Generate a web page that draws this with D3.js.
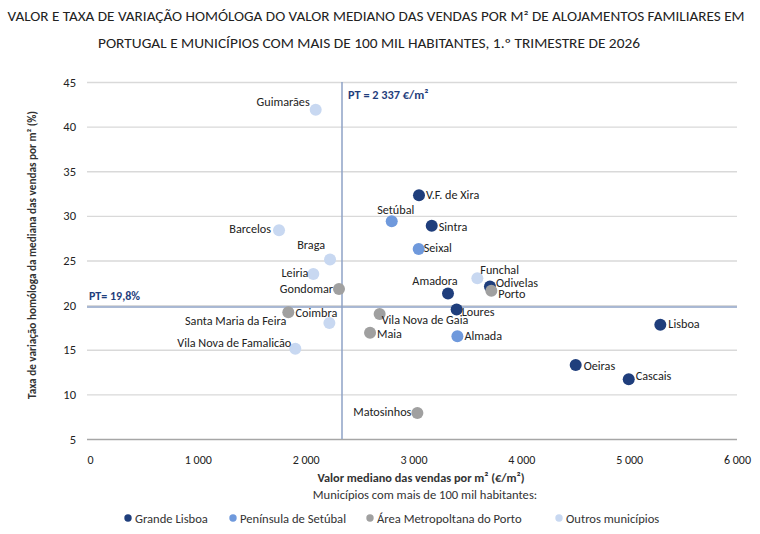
<!DOCTYPE html>
<html>
<head>
<meta charset="utf-8">
<script src="https://cdn.jsdelivr.net/npm/d3@7"></script>
<style>
  body { margin: 0; background: #fff; }
  text { font-family: Carlito, Lato, sans-serif; fill: #222; }
</style>
</head>
<body>
<div class="container"></div>
<script>
/* ===== DATA ===== */
var municipios = ['Guimarães', 'V.F. de Xira', 'Setúbal', 'Sintra', 'Seixal', 'Barcelos', 'Braga', 'Leiria',
  'Gondomar', 'Funchal', 'Odivelas', 'Porto', 'Amadora', 'Loures', 'Vila Nova de Gaia', 'Maia', 'Almada',
  'Coimbra', 'Santa Maria da Feira', 'Vila Nova de Famalicão', 'Matosinhos', 'Lisboa', 'Oeiras', 'Cascais'];
var valorMediano = [2093, 3051, 2798, 3169, 3048, 1753, 2226, 2071,
  2309, 3592, 3709, 3722, 3320, 3400, 2686, 2597, 3407,
  2220, 1839, 1904, 3036, 5289, 4504, 4996];
var taxaVariacao = [41.9, 32.3, 29.4, 28.9, 26.3, 28.4, 25.1, 23.5,
  21.8, 23.0, 22.1, 21.6, 21.3, 19.5, 19.0, 16.9, 16.5,
  18.0, 19.2, 15.1, 7.9, 17.8, 13.3, 11.7];
var regiao = [3, 0, 1, 0, 1, 3, 3, 3,
  2, 3, 0, 2, 0, 0, 2, 2, 1,
  3, 2, 3, 2, 0, 0, 0];
var regioes = ['Grande Lisboa', 'Península de Setúbal', 'Área Metropoltana do Porto', 'Outros municípios'];
var ptValor = 2337;
var ptTaxa = 19.8;
var xTicks = [0, 1000, 2000, 3000, 4000, 5000, 6000];
var yTicks = [5, 10, 15, 20, 25, 30, 35, 40, 45];

/* ===== LABEL PLACEMENT ===== */
// [dx, dy, anchor]
var labelPos = {
  'Guimarães': [-6, -4, 'end'], 'V.F. de Xira': [7, 4, 'start'], 'Setúbal': [4, -7, 'middle'],
  'Sintra': [7, 5, 'start'], 'Seixal': [5, 3, 'start'], 'Barcelos': [-8, 3, 'end'],
  'Braga': [-5, -11, 'end'], 'Leiria': [-5, 3, 'end'], 'Gondomar': [-6, 4, 'end'],
  'Funchal': [3, -4, 'start'], 'Odivelas': [6, 1, 'start'], 'Porto': [7, 7, 'start'],
  'Amadora': [-13, -9, 'middle'], 'Loures': [5, 6, 'start'], 'Vila Nova de Gaia': [2, 10, 'start'],
  'Maia': [7, 5, 'start'], 'Almada': [7, 4, 'start'], 'Coimbra': [-13, -6, 'middle'],
  'Santa Maria da Feira': [-2, 13, 'end'], 'Vila Nova de Famalicão': [-4, -2, 'end'],
  'Matosinhos': [-6, 3, 'end'], 'Lisboa': [8, 3, 'start'], 'Oeiras': [8, 5, 'start'], 'Cascais': [7, 1, 'start']
};

var colors = ['#1f3e7c', '#6f99dc', '#a0a0a0', '#c8d8f1'];
var ptColor = '#1f3e7c';

/* ===== SET UP CHART ===== */
var w = 760, h = 534;

var svg = d3.select('.container')
  .append('svg')
  .attr('width', w)
  .attr('height', h);

var xScale = d3.scaleLinear().domain([0, 6000]).range([90, 737]);
var yScale = d3.scaleLinear().domain([5, 45]).range([439, 82]);

var locale = d3.formatLocale({ decimal: ',', thousands: '\u00a0', grouping: [3], currency: ['', '€'] });
var fmt = locale.format(',d');

/* ===== TITLE ===== */
svg.append('text')
  .attr('x', 376).attr('y', 21)
  .attr('text-anchor', 'middle')
  .attr('font-size', '13.5px')
  .attr('textLength', 737)
  .attr('lengthAdjust', 'spacingAndGlyphs')
  .text('VALOR E TAXA DE VARIAÇÃO HOMÓLOGA DO VALOR MEDIANO DAS VENDAS POR M² DE ALOJAMENTOS FAMILIARES EM');
svg.append('text')
  .attr('x', 369).attr('y', 48)
  .attr('text-anchor', 'middle')
  .attr('font-size', '13.5px')
  .attr('textLength', 542)
  .attr('lengthAdjust', 'spacingAndGlyphs')
  .text('PORTUGAL E MUNICÍPIOS COM MAIS DE 100 MIL HABITANTES, 1.º TRIMESTRE DE 2026');

/* ===== GRID + AXES ===== */
var yAxis = d3.axisLeft(yScale)
  .tickValues(yTicks)
  .tickSize(-(737 - 87))
  .tickPadding(11);

var gy = svg.append('g')
  .attr('transform', 'translate(87,0)')
  .call(yAxis);
gy.select('.domain').remove();
gy.selectAll('.tick line')
  .attr('stroke', function(d) { return d === 5 ? '#a6a6a6' : '#d9d9d9'; })
  .attr('stroke-width', 1.3);
gy.selectAll('.tick text')
  .attr('font-size', '12.5px')
  .attr('fill', '#333');

var xAxis = d3.axisBottom(xScale)
  .tickValues(xTicks)
  .tickSize(0)
  .tickPadding(16)
  .tickFormat(fmt);

var gx = svg.append('g')
  .attr('transform', 'translate(0,439)')
  .call(xAxis);
gx.select('.domain').remove();
gx.selectAll('.tick text')
  .attr('font-size', '12px')
  .attr('fill', '#333');

/* ===== PT REFERENCE LINES ===== */
svg.append('line')
  .attr('x1', 87).attr('x2', 737)
  .attr('y1', yScale(ptTaxa)).attr('y2', yScale(ptTaxa))
  .attr('stroke', '#8ea2c6')
  .attr('stroke-width', 1.5);

svg.append('line')
  .attr('x1', xScale(ptValor)).attr('x2', xScale(ptValor))
  .attr('y1', yScale(45)).attr('y2', yScale(5))
  .attr('stroke', '#8ea2c6')
  .attr('stroke-width', 1.5);

svg.append('text')
  .attr('x', xScale(ptValor) + 6).attr('y', 99)
  .attr('font-size', '12.3px')
  .attr('font-weight', 'bold')
  .style('fill', ptColor)
  .text('PT = ' + fmt(ptValor) + ' €/m²');

svg.append('text')
  .attr('x', 89).attr('y', yScale(ptTaxa) - 7)
  .attr('font-size', '12px')
  .attr('font-weight', 'bold')
  .style('fill', ptColor)
  .text('PT= ' + locale.format('.1f')(ptTaxa) + '%');

/* ===== POINTS ===== */
var points = municipios.map(function(m, i) {
  return { nome: m, x: valorMediano[i], y: taxaVariacao[i], r: regiao[i] };
});

var group = svg.selectAll('g.pt')
  .data(points)
  .enter()
  .append('g')
  .attr('class', 'pt');

group.append('circle')
  .attr('cx', function(d) { return xScale(d.x); })
  .attr('cy', function(d) { return yScale(d.y); })
  .attr('r', 6)
  .attr('fill', function(d) { return colors[d.r]; });

group.append('text')
  .attr('x', function(d) { return xScale(d.x) + labelPos[d.nome][0]; })
  .attr('y', function(d) { return yScale(d.y) + labelPos[d.nome][1]; })
  .attr('text-anchor', function(d) { return labelPos[d.nome][2]; })
  .attr('font-size', '12.2px')
  .style('fill', '#222')
  .text(function(d) { return d.nome; });

/* ===== AXIS TITLES ===== */
svg.append('text')
  .attr('x', 421).attr('y', 482)
  .attr('text-anchor', 'middle')
  .attr('font-size', '12.3px')
  .attr('font-weight', 'bold')
  .style('fill', '#333')
  .text('Valor mediano das vendas por m² (€/m²)');

svg.append('text')
  .attr('transform', 'translate(36,255) rotate(-90)')
  .attr('text-anchor', 'middle')
  .attr('font-size', '11.2px')
  .attr('font-weight', 'bold')
  .style('fill', '#333')
  .text('Taxa de variação homóloga da mediana das vendas por m² (%)');

svg.append('text')
  .attr('x', 425).attr('y', 499)
  .attr('text-anchor', 'middle')
  .attr('font-size', '12.6px')
  .style('fill', '#333')
  .text('Municípios com mais de 100 mil habitantes:');

/* ===== LEGEND ===== */
var legendX = [128, 233, 370, 559];
var legend = svg.selectAll('g.leg')
  .data(regioes)
  .enter()
  .append('g')
  .attr('class', 'leg')
  .attr('transform', function(d, i) { return 'translate(' + legendX[i] + ',518)'; });

legend.append('circle')
  .attr('r', 3.7)
  .attr('fill', function(d, i) { return colors[i]; });

legend.append('text')
  .attr('x', 7).attr('y', 4.5)
  .attr('font-size', '12.6px')
  .style('fill', '#333')
  .text(function(d) { return d; });
</script>
</body>
</html>
